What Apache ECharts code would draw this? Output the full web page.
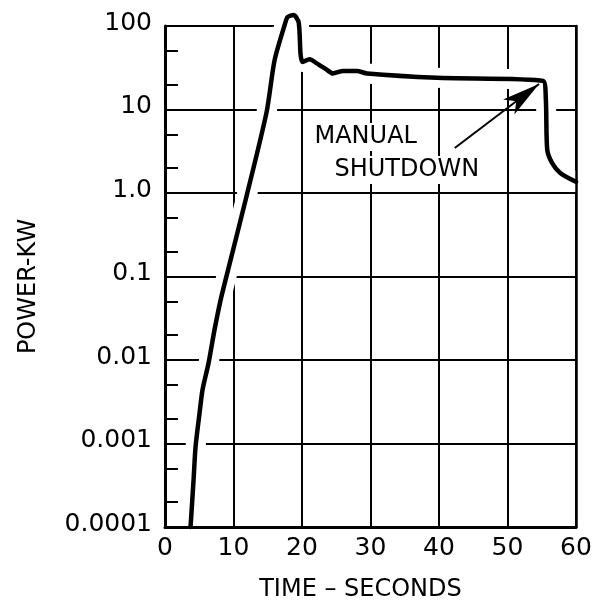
<!DOCTYPE html>
<html>
<head>
<meta charset="utf-8">
<script src="https://cdn.jsdelivr.net/npm/echarts@6/dist/echarts.min.js"></script>
<style>
html,body{margin:0;padding:0;background:#fff;}
#chart{width:603px;height:603px;}
</style>
</head>
<body>
<div id="chart"></div>
<script>
// ---- data ----
const timeSec = [3.73, 4.17, 4.46, 5.04, 5.48, 6.36, 7.23, 8.11, 8.84, 11.91, 14.83, 16.0, 17.47, 17.9, 18.78, 19.51, 19.8, 20.1, 21.1, 22.1, 23.6, 24.5, 26.0, 28.0, 29.5, 39.7, 55.2, 55.6, 55.8, 56.5, 57.7, 60.0];
const powerKW = [0.0001, 0.000366, 0.00091, 0.0023, 0.0044, 0.0092, 0.023, 0.052, 0.091, 0.92, 9.3, 39, 103, 128, 135, 111, 45, 37, 40, 36, 30, 27, 29, 29, 27, 24, 22, 13, 3.3, 2.3, 1.74, 1.36];
const yTickLabels = ['0.0001', '0.001', '0.01', '0.1', '1.0', '10', '100'];
const xTickLabels = ['0', '10', '20', '30', '40', '50', '60'];
const minorTickValues = [0.0002, 0.0005, 0.002, 0.005, 0.02, 0.05, 0.2, 0.5, 2, 5, 20, 50];
const arrowFrom = [42.3, 3.46];
const arrowTo = [54.6, 20.2];
const noteManual = [29.3, 4.69];
const noteShutdown = [35.3, 1.89];

const FONT = 'DejaVu Sans';
const pts = timeSec.map((t, i) => [t, powerKW[i]]);

const chart = echarts.init(document.getElementById('chart'), null, {renderer: 'canvas'});
chart.setOption({
  animation: false,
  backgroundColor: '#fff',
  grid: {left: 165, right: 27, top: 26, bottom: 76, containLabel: false, outerBoundsMode: 'none'},
  xAxis: [{
    type: 'value', min: 0, max: 60, interval: 10,
    name: 'TIME – SECONDS', nameLocation: 'middle', nameGap: 51,
    nameTextStyle: {fontFamily: FONT, fontSize: 24, color: '#000', padding: [0, 20, 0, 0]},
    axisLine: {show: false}, axisTick: {show: false},
    axisLabel: {fontFamily: FONT, fontSize: 25, color: '#000', margin: 9,
      formatter: (v, i) => xTickLabels[i]},
    splitLine: {show: true, lineStyle: {color: '#000', width: 2}}
  }, {
    type: 'value', min: 0, max: 60, position: 'bottom', z: 5,
    axisLine: {show: true, lineStyle: {color: '#000', width: 3}},
    axisTick: {show: false}, axisLabel: {show: false}, splitLine: {show: false}
  }],
  yAxis: [{
    type: 'log', logBase: 10, min: 0.0001, max: 100,
    name: 'POWER-KW', nameLocation: 'middle', nameGap: 124,
    nameTextStyle: {fontFamily: FONT, fontSize: 24, color: '#000', padding: [0, 20, 0, 0]},
    axisLine: {show: false}, axisTick: {show: false},
    axisLabel: {fontFamily: FONT, fontSize: 25, color: '#000', margin: 13,
      verticalAlign: 'bottom', lineHeight: 6,
      formatter: (v, i) => yTickLabels[i]},
    splitLine: {show: true, lineStyle: {color: '#000', width: 2}}
  }, {
    type: 'log', logBase: 10, min: 0.0001, max: 100, position: 'left', z: 5,
    axisLine: {show: true, lineStyle: {color: '#000', width: 3}},
    axisTick: {show: true, inside: true, length: 13, customValues: minorTickValues,
      lineStyle: {color: '#000', width: 2}},
    axisLabel: {show: false}, splitLine: {show: false}
  }, {
    type: 'log', logBase: 10, min: 0.0001, max: 100, position: 'right', z: 5,
    axisLine: {show: true, lineStyle: {color: '#000', width: 2.5}},
    axisTick: {show: false}, axisLabel: {show: false}, splitLine: {show: false}
  }],
  series: [{
    type: 'line', name: 'halo', data: pts, xAxisIndex: 0, yAxisIndex: 0,
    showSymbol: false, smooth: 0.25, clip: false, silent: true, z: 2,
    lineStyle: {color: '#fff', width: 20, cap: 'round', join: 'round'}
  }, {
    type: 'line', name: 'power', data: pts, xAxisIndex: 0, yAxisIndex: 0,
    showSymbol: false, smooth: 0.25, clip: false, silent: true, z: 3,
    lineStyle: {color: '#000', width: 4.5, cap: 'round', join: 'round'},
    markLine: {
      silent: true, symbol: ['none', 'arrow'], symbolSize: [14, 38],
      lineStyle: {color: '#000', width: 2, type: 'solid'},
      label: {show: false},
      data: [[{coord: arrowFrom}, {coord: arrowTo}]]
    },
    markPoint: {
      silent: true, symbol: 'rect', symbolSize: 0,
      label: {show: true, position: 'inside', fontFamily: FONT, fontSize: 24, color: '#000',
        backgroundColor: '#fff', padding: [2, 3]},
      data: [
        {coord: noteManual, value: 'MANUAL', label: {formatter: 'MANUAL'}},
        {coord: noteShutdown, value: 'SHUTDOWN', label: {formatter: 'SHUTDOWN'}}
      ]
    }
  }]
});
</script>
</body>
</html>
